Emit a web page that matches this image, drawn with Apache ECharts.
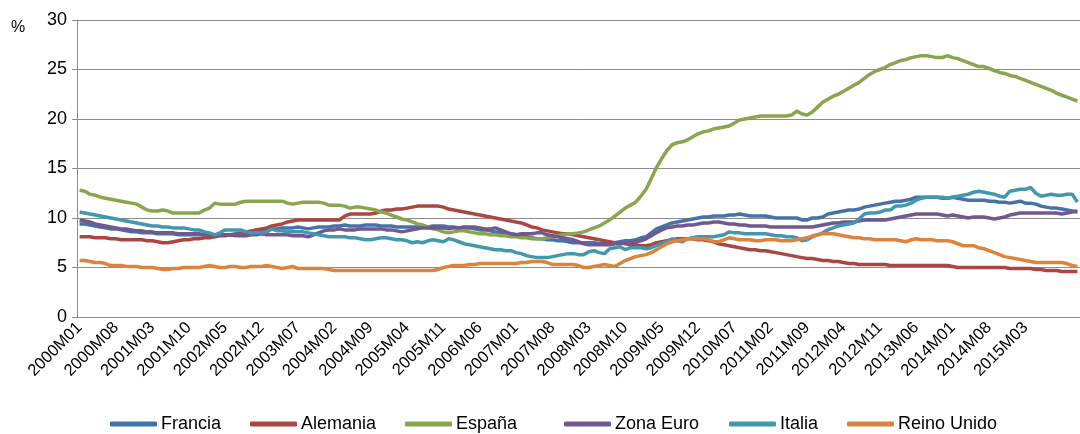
<!DOCTYPE html>
<html>
<head>
<meta charset="utf-8">
<style>
  html, body { margin: 0; padding: 0; background: #fff; }
  #chart { width: 1080px; height: 434px; }
</style>
<script src="https://cdn.jsdelivr.net/npm/echarts@6/dist/echarts.min.js"></script>
</head>
<body>
<div id="chart"></div>
<script>
// months 2000M01 .. 2016M01
const years = [2000, 2001, 2002, 2003, 2004, 2005, 2006, 2007, 2008, 2009, 2010, 2011, 2012, 2013, 2014, 2015, 2016]
const months = ['01', '02', '03', '04', '05', '06', '07', '08', '09', '10', '11', '12']
const categories = []
years.forEach((y) => months.forEach((m) => categories.push(y + 'M' + m)))
categories.length = 193

const seriesNames = ['Francia', 'Alemania', 'España', 'Zona Euro', 'Italia', 'Reino Unido']
const colors = ['#4572A7', '#AA4643', '#89A54E', '#71588F', '#4198AF', '#DB843D']
const yTicks = [0, 5, 10, 15, 20, 25, 30]

const francia = [
  9.4, 9.4, 9.3, 9.2, 9.1, 9.0, 8.9, 8.9, 8.8, 8.7, 8.6, 8.6,
  8.5, 8.5, 8.5, 8.4, 8.4, 8.4, 8.4, 8.3, 8.3, 8.3, 8.3, 8.3,
  8.3, 8.3, 8.3, 8.3, 8.3, 8.3, 8.4, 8.5, 8.6, 8.7, 8.8, 8.8,
  8.9, 8.9, 8.9, 9.0, 9.0, 9.0, 9.1, 9.0, 8.9, 9.0, 9.1, 9.1,
  9.1, 9.2, 9.2, 9.3, 9.2, 9.2, 9.2, 9.3, 9.3, 9.3, 9.2, 9.2,
  9.2, 9.1, 9.1, 9.1, 9.1, 9.1, 9.1, 9.1, 9.2, 9.2, 9.2, 9.1,
  9.1, 9.0, 9.0, 9.0, 8.9, 8.8, 8.8, 8.7, 8.6, 8.5, 8.4, 8.4,
  8.3, 8.2, 8.1, 8.0, 7.9, 7.9, 7.8, 7.8, 7.7, 7.7, 7.6, 7.5,
  7.5, 7.5, 7.5, 7.5, 7.4, 7.4, 7.5, 7.5, 7.6, 7.7, 7.7, 7.8,
  8.0, 8.1, 8.5, 8.9, 9.1, 9.3, 9.5, 9.6, 9.7, 9.8, 9.9, 10.0,
  10.1, 10.1, 10.2, 10.2, 10.2, 10.3, 10.3, 10.4, 10.3, 10.2, 10.2, 10.2,
  10.2, 10.1, 10.0, 10.0, 10.0, 10.0, 10.0, 9.8, 9.8, 10.0, 10.0, 10.1,
  10.4, 10.5, 10.6, 10.7, 10.8, 10.8, 10.9, 11.1, 11.2, 11.3, 11.4, 11.5,
  11.6, 11.7, 11.7, 11.8, 11.9, 12.1, 12.1, 12.1, 12.1, 12.1, 12.0, 12.0,
  12.1, 12.0, 11.9, 11.8, 11.8, 11.8, 11.8, 11.7, 11.7, 11.6, 11.6, 11.5,
  11.6, 11.7, 11.5, 11.5, 11.4, 11.2, 11.1, 11.0, 11.0, 10.9, 10.8, 10.7,
  10.6,
]

const alemania = [
  8.1, 8.1, 8.1, 8.0, 8.0, 8.0, 7.9, 7.9, 7.8, 7.8, 7.8, 7.8,
  7.8, 7.7, 7.7, 7.6, 7.5, 7.5, 7.6, 7.7, 7.8, 7.8, 7.9, 7.9,
  8.0, 8.0, 8.1, 8.2, 8.2, 8.3, 8.3, 8.4, 8.5, 8.6, 8.8, 8.9,
  9.0, 9.2, 9.3, 9.4, 9.6, 9.7, 9.8, 9.8, 9.8, 9.8, 9.8, 9.8,
  9.8, 9.8, 9.8, 10.2, 10.4, 10.4, 10.4, 10.4, 10.4, 10.5, 10.7, 10.8,
  10.8, 10.9, 10.9, 11.0, 11.1, 11.2, 11.2, 11.2, 11.2, 11.2, 11.1, 10.9,
  10.8, 10.7, 10.6, 10.5, 10.4, 10.3, 10.2, 10.1, 10.0, 9.9, 9.8, 9.7,
  9.6, 9.5, 9.3, 9.1, 9.0, 8.8, 8.7, 8.6, 8.5, 8.4, 8.4, 8.3,
  8.2, 8.1, 8.0, 7.9, 7.8, 7.7, 7.6, 7.5, 7.5, 7.4, 7.3, 7.3,
  7.2, 7.2, 7.3, 7.5, 7.6, 7.7, 7.8, 7.9, 7.9, 7.9, 7.9, 7.8,
  7.8, 7.7, 7.6, 7.4, 7.3, 7.2, 7.1, 7.0, 6.9, 6.8, 6.8, 6.7,
  6.7, 6.6, 6.5, 6.4, 6.3, 6.2, 6.1, 6.0, 5.9, 5.9, 5.8, 5.7,
  5.7, 5.6, 5.6, 5.5, 5.4, 5.4, 5.3, 5.3, 5.3, 5.3, 5.3, 5.3,
  5.2, 5.2, 5.2, 5.2, 5.2, 5.2, 5.2, 5.2, 5.2, 5.2, 5.2, 5.2,
  5.1, 5.0, 5.0, 5.0, 5.0, 5.0, 5.0, 5.0, 5.0, 5.0, 5.0, 4.9,
  4.9, 4.9, 4.9, 4.9, 4.8, 4.8, 4.7, 4.7, 4.7, 4.6, 4.6, 4.6,
  4.6,
]

const espana = [
  12.8, 12.7, 12.4, 12.3, 12.1, 12.0, 11.9, 11.8, 11.7, 11.6, 11.5, 11.4,
  11.1, 10.8, 10.7, 10.7, 10.8, 10.7, 10.5, 10.5, 10.5, 10.5, 10.5, 10.5,
  10.8, 11.0, 11.5, 11.4, 11.4, 11.4, 11.4, 11.6, 11.7, 11.7, 11.7, 11.7,
  11.7, 11.7, 11.7, 11.7, 11.5, 11.4, 11.5, 11.6, 11.6, 11.6, 11.6, 11.5,
  11.3, 11.3, 11.3, 11.2, 11.0, 11.1, 11.1, 11.0, 10.9, 10.8, 10.6, 10.5,
  10.3, 10.1, 9.9, 9.8, 9.6, 9.4, 9.3, 9.1, 8.9, 8.8, 8.6, 8.5,
  8.6, 8.7, 8.7, 8.6, 8.5, 8.4, 8.4, 8.3, 8.3, 8.2, 8.2, 8.1,
  8.1, 8.0, 8.0, 7.9, 7.9, 7.9, 8.0, 8.1, 8.2, 8.3, 8.4, 8.4,
  8.5, 8.6, 8.8, 9.0, 9.2, 9.5, 9.8, 10.2, 10.6, 11.0, 11.3, 11.6,
  12.2, 12.9, 14.0, 15.1, 16.0, 16.8, 17.4, 17.6, 17.7, 17.9, 18.2, 18.5,
  18.7, 18.8, 19.0, 19.1, 19.2, 19.3, 19.6, 19.9, 20.0, 20.1, 20.2, 20.3,
  20.3, 20.3, 20.3, 20.3, 20.3, 20.4, 20.8, 20.5, 20.4, 20.7, 21.2, 21.7,
  22.0, 22.3, 22.5, 22.8, 23.1, 23.4, 23.7, 24.1, 24.5, 24.8, 25.0, 25.2,
  25.5, 25.7, 25.9, 26.0, 26.2, 26.3, 26.4, 26.4, 26.3, 26.2, 26.2, 26.4,
  26.2, 26.1, 25.9, 25.7, 25.5, 25.3, 25.3, 25.1, 24.9, 24.7, 24.6, 24.4,
  24.3, 24.1, 23.9, 23.7, 23.5, 23.3, 23.1, 22.9, 22.6, 22.4, 22.2, 22.0,
  21.8,
]

const zonaEuro = [
  9.8, 9.7, 9.6, 9.4, 9.3, 9.2, 9.1, 9.0, 8.9, 8.9, 8.8, 8.7,
  8.7, 8.6, 8.6, 8.5, 8.5, 8.5, 8.5, 8.4, 8.4, 8.4, 8.4, 8.4,
  8.3, 8.3, 8.3, 8.3, 8.3, 8.3, 8.2, 8.2, 8.2, 8.3, 8.3, 8.4,
  8.3, 8.3, 8.3, 8.3, 8.3, 8.2, 8.2, 8.2, 8.1, 8.3, 8.5, 8.7,
  8.8, 8.8, 8.9, 8.8, 8.8, 8.8, 8.9, 8.9, 8.9, 8.9, 8.9, 8.8,
  8.8, 8.7, 8.6, 8.7, 8.8, 8.9, 9.0, 9.0, 9.0, 9.0, 9.0, 8.9,
  9.0, 9.0, 9.1, 9.1, 9.1, 9.0, 8.9, 8.9, 9.0, 8.8, 8.6, 8.4,
  8.3, 8.4, 8.4, 8.4, 8.5, 8.5, 8.3, 8.2, 8.1, 8.0, 7.9, 7.8,
  7.6, 7.4, 7.3, 7.3, 7.3, 7.3, 7.3, 7.4, 7.4, 7.5, 7.5, 7.6,
  7.7, 7.9, 8.2, 8.5, 8.8, 9.0, 9.1, 9.2, 9.2, 9.3, 9.3, 9.4,
  9.5, 9.5, 9.6, 9.6, 9.5, 9.4, 9.4, 9.3, 9.3, 9.2, 9.2, 9.2,
  9.2, 9.1, 9.1, 9.1, 9.1, 9.1, 9.1, 9.1, 9.1, 9.1, 9.2, 9.3,
  9.4, 9.5, 9.5, 9.6, 9.6, 9.6, 9.7, 9.8, 9.8, 9.8, 9.8, 9.8,
  9.9, 10.0, 10.1, 10.2, 10.3, 10.4, 10.4, 10.4, 10.4, 10.4, 10.3, 10.2,
  10.3, 10.2, 10.1, 10.0, 10.1, 10.1, 10.1, 10.0, 9.9, 10.0, 10.1, 10.3,
  10.4, 10.5, 10.5, 10.5, 10.5, 10.5, 10.5, 10.5, 10.5, 10.4, 10.5, 10.6,
  10.7,
]

const italia = [
  10.6, 10.5, 10.4, 10.3, 10.2, 10.1, 10.0, 9.9, 9.8, 9.7, 9.6, 9.5,
  9.4, 9.3, 9.2, 9.2, 9.1, 9.1, 9.0, 9.0, 9.0, 8.9, 8.8, 8.8,
  8.6, 8.5, 8.3, 8.5, 8.8, 8.8, 8.8, 8.8, 8.6, 8.5, 8.5, 8.5,
  8.6, 8.9, 8.7, 8.7, 8.6, 8.6, 8.6, 8.6, 8.5, 8.4, 8.3, 8.2,
  8.1, 8.1, 8.1, 8.1, 8.0, 8.0, 7.9, 7.8, 7.8, 7.9, 8.0, 8.0,
  7.9, 7.8, 7.8, 7.7, 7.5, 7.6, 7.5, 7.7, 7.8, 7.7, 7.6, 7.9,
  7.8, 7.6, 7.4, 7.3, 7.2, 7.1, 7.0, 6.9, 6.8, 6.8, 6.7, 6.7,
  6.5, 6.4, 6.2, 6.1, 6.0, 6.0, 6.0, 6.1, 6.2, 6.3, 6.4, 6.4,
  6.3, 6.3, 6.6, 6.7, 6.5, 6.4, 6.9, 7.0, 7.1, 6.8, 7.0, 7.0,
  7.0, 6.9, 7.0, 7.2, 7.4, 7.6, 7.9, 7.7, 7.6, 7.9, 8.0, 8.1,
  8.1, 8.1, 8.1, 8.2, 8.3, 8.6, 8.5, 8.5, 8.4, 8.4, 8.4, 8.4,
  8.4, 8.3, 8.2, 8.2, 8.1, 8.1, 8.0, 7.7, 7.8, 8.1, 8.3, 8.5,
  8.8, 9.0, 9.2, 9.3, 9.4, 9.5, 9.9, 10.4, 10.5, 10.5, 10.6, 10.8,
  10.8, 11.2, 11.2, 11.3, 11.5, 11.8, 12.0, 12.1, 12.1, 12.1, 12.1, 12.0,
  12.1, 12.2, 12.3, 12.4, 12.6, 12.7, 12.6, 12.5, 12.4, 12.2, 12.1, 12.7,
  12.8, 12.9, 12.9, 13.1, 12.5, 12.2, 12.3, 12.4, 12.3, 12.3, 12.4, 12.4,
  11.6,
]

const reinoUnido = [
  5.7, 5.7, 5.6, 5.5, 5.5, 5.4, 5.2, 5.2, 5.2, 5.1, 5.1, 5.1,
  5.0, 5.0, 5.0, 4.9, 4.8, 4.8, 4.9, 4.9, 5.0, 5.0, 5.0, 5.0,
  5.1, 5.2, 5.1, 5.0, 5.0, 5.1, 5.1, 5.0, 5.0, 5.1, 5.1, 5.1,
  5.2, 5.1, 5.0, 4.9, 5.0, 5.1, 4.9, 4.9, 4.9, 4.9, 4.9, 4.9,
  4.8, 4.7, 4.7, 4.7, 4.7, 4.7, 4.7, 4.7, 4.7, 4.7, 4.7, 4.7,
  4.7, 4.7, 4.7, 4.7, 4.7, 4.7, 4.7, 4.7, 4.7, 4.8, 5.0, 5.1,
  5.2, 5.2, 5.2, 5.3, 5.3, 5.4, 5.4, 5.4, 5.4, 5.4, 5.4, 5.4,
  5.4, 5.5, 5.5, 5.6, 5.6, 5.6, 5.5, 5.3, 5.3, 5.3, 5.3, 5.3,
  5.2, 5.0, 5.0, 5.1, 5.2, 5.3, 5.2, 5.1, 5.4, 5.7, 5.9, 6.1,
  6.2, 6.3, 6.5, 6.8, 7.1, 7.4, 7.6, 7.7, 7.8, 7.9, 7.9, 7.9,
  7.9, 7.8, 7.6, 7.6, 7.8, 8.0, 7.9, 7.8, 7.8, 7.8, 7.7, 7.7,
  7.8, 7.8, 7.8, 7.7, 7.7, 7.7, 7.8, 7.9, 8.0, 8.2, 8.3, 8.4,
  8.4, 8.4, 8.3, 8.2, 8.1, 8.0, 8.0, 7.9, 7.9, 7.8, 7.8, 7.8,
  7.8, 7.8, 7.7, 7.6, 7.8, 7.9, 7.8, 7.8, 7.8, 7.7, 7.7, 7.7,
  7.6, 7.4, 7.2, 7.2, 7.2, 7.0, 6.9, 6.7, 6.5, 6.3, 6.1, 6.0,
  5.9, 5.8, 5.7, 5.6, 5.5, 5.5, 5.5, 5.5, 5.5, 5.5, 5.4, 5.2,
  5.1,
]

const seriesData = [francia, alemania, espana, zonaEuro, italia, reinoUnido]
const font = '"Liberation Sans", Arial, sans-serif'
const axisGray = '#8c8c8c'
// posición izquierda de cada entrada de la leyenda
const legendLeft = [110, 250, 405, 564, 729, 847]

const chart = echarts.init(document.getElementById('chart'))

chart.setOption({
  animation: false,
  backgroundColor: '#fff',
  textStyle: { fontFamily: font },
  graphic: [
    {
      type: 'text',
      left: 11,
      top: 20,
      style: { text: '%', font: '16px ' + font, fill: '#000' },
    },
  ],
  legend: seriesNames.map((name, k) => ({
    left: legendLeft[k],
    top: 415,
    padding: 0,
    itemWidth: 47,
    itemHeight: 5,
    itemGap: 0,
    icon: 'roundRect',
    textStyle: { fontSize: 18, color: '#000', fontFamily: font, padding: [0, 0, 0, -1] },
    data: [name],
  })),
  grid: { left: 77, right: 0, top: 20, bottom: 117, containLabel: false },
  xAxis: {
    type: 'category',
    data: categories,
    boundaryGap: true,
    axisLine: { lineStyle: { color: axisGray, width: 1 } },
    axisTick: { interval: 4, length: 5, lineStyle: { color: axisGray } },
    axisLabel: {
      // una etiqueta cada 7 meses, la última visible es 2015M03
      interval: (index) => index % 7 === 0 && index <= 182,
      rotate: 45,
      fontSize: 16.5,
      color: '#000',
      margin: 8,
      fontFamily: font,
    },
    splitLine: { show: false },
  },
  yAxis: {
    type: 'value',
    min: yTicks[0],
    max: yTicks[yTicks.length - 1],
    interval: 5,
    axisLine: { show: true, lineStyle: { color: axisGray, width: 1 } },
    axisTick: { show: true, length: 5, lineStyle: { color: axisGray } },
    axisLabel: { fontSize: 18, color: '#000', margin: 10, fontFamily: font },
    splitLine: { lineStyle: { color: axisGray, width: 1 } },
  },
  series: seriesNames.map((name, k) => ({
    name,
    type: 'line',
    data: seriesData[k],
    symbol: 'none',
    smooth: false,
    lineStyle: { color: colors[k], width: 3.5 },
    itemStyle: { color: colors[k] },
  })),
})
</script>
</body>
</html>
